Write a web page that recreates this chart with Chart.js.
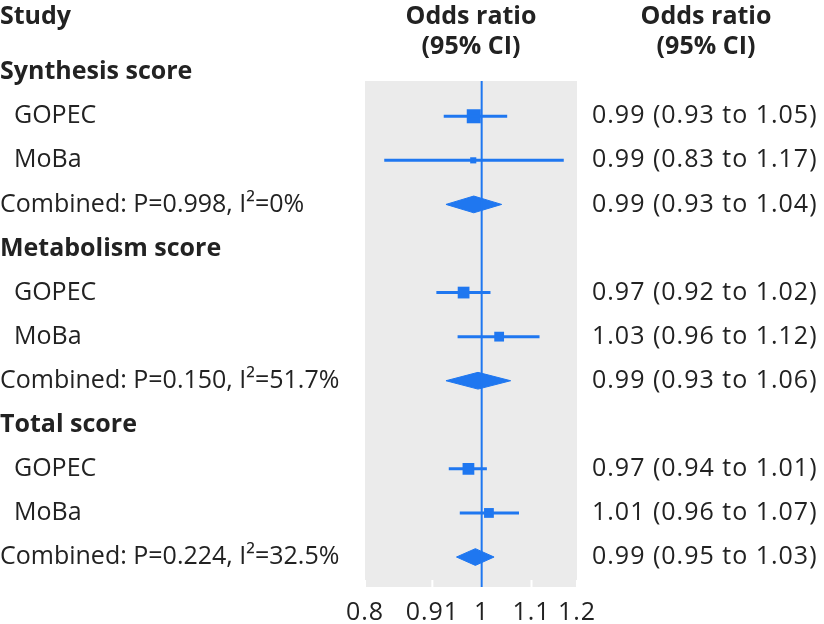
<!DOCTYPE html>
<html>
<head>
<meta charset="utf-8">
<script src="https://cdn.jsdelivr.net/npm/chart.js@4.4.1/dist/chart.umd.min.js"></script>
<style>
  html, body { margin: 0; padding: 0; background: #fff; }
  #wrap { width: 824px; height: 624px; }
</style>
</head>
<body>
<div id="wrap"><canvas id="grafica1"></canvas></div>
<script>
// filas del forest plot (de arriba hacia abajo)
const rowLabels = [
  "Synthesis score", "GOPEC", "MoBa", "Combined: P=0.998, I²=0%",
  "Metabolism score", "GOPEC", "MoBa", "Combined: P=0.150, I²=51.7%",
  "Total score", "GOPEC", "MoBa", "Combined: P=0.224, I²=32.5%"
];
const rowKinds = [
  "header", "study", "study", "combined",
  "header", "study", "study", "combined",
  "header", "study", "study", "combined"
];
const oddsRatio = [null, 0.985, 0.984, 0.985, null, 0.966, 1.034, 0.993, null, 0.975, 1.014, 0.988];
const ciLower   = [null, 0.93, 0.83, 0.934, null, 0.917, 0.955, 0.934, null, 0.939, 0.959, 0.953];
const ciUpper   = [null, 1.05, 1.17, 1.039, null, 1.017, 1.117, 1.057, null, 1.010, 1.074, 1.024];
const studyWeights = [null, 84, 16, null, null, 59, 41, null, null, 59, 41, null]; // % peso
const ciLabels = [
  "", "0.99 (0.93 to 1.05)", "0.99 (0.83 to 1.17)", "0.99 (0.93 to 1.04)",
  "", "0.97 (0.92 to 1.02)", "1.03 (0.96 to 1.12)", "0.99 (0.93 to 1.06)",
  "", "0.97 (0.94 to 1.01)", "1.01 (0.96 to 1.07)", "0.99 (0.95 to 1.03)"
];
const xTicks = [0.8, 0.91, 1, 1.1, 1.2];

const blue = "#1f77f0";
const font = "'Open Sans', 'DejaVu Sans', sans-serif";

const datasets = [];

// linea de no efecto
datasets.push({
  type: "scatter",
  data: [{ x: 1, y: 0.2 }, { x: 1, y: 11.68 }],
  showLine: true,
  borderColor: blue,
  borderWidth: 2,
  pointRadius: 0,
});

// intervalos de confianza y diamantes
rowKinds.forEach((k, i) => {
  if (k === "study") {
    datasets.push({
      type: "scatter",
      data: [{ x: ciLower[i], y: i }, { x: ciUpper[i], y: i }],
      showLine: true,
      borderColor: blue,
      borderWidth: 3,
      pointRadius: 0,
    });
  } else if (k === "combined") {
    const h = 0.19;
    datasets.push({
      type: "scatter",
      data: [
        { x: ciLower[i], y: i },
        { x: oddsRatio[i], y: i - h },
        { x: ciUpper[i], y: i },
        { x: oddsRatio[i], y: i + h },
        { x: ciLower[i], y: i },
      ],
      showLine: true,
      fill: "shape",
      backgroundColor: blue,
      borderColor: blue,
      borderWidth: 1,
      pointRadius: 0,
    });
  }
});

// cuadrados (tamano segun peso)
const squares = [];
const radii = [];
rowKinds.forEach((k, i) => {
  if (k === "study") {
    squares.push({ x: oddsRatio[i], y: i });
    radii.push((1.53 * Math.sqrt(studyWeights[i])) / Math.SQRT2);
  }
});
datasets.push({
  type: "scatter",
  data: squares,
  pointStyle: "rect",
  pointRadius: radii,
  pointHoverRadius: radii,
  backgroundColor: blue,
  borderWidth: 0,
});

const panelPlugin = {
  id: "panel",
  beforeDraw(chart) {
    chart.ctx.letterSpacing = "1px";
  },
  beforeDatasetsDraw(chart) {
    const { ctx, chartArea: a } = chart;
    ctx.save();
    ctx.fillStyle = "#ebebeb";
    ctx.fillRect(a.left, a.top, a.right - a.left, a.bottom - a.top);
    // marcas blancas del eje
    ctx.strokeStyle = "#ffffff";
    ctx.lineWidth = 2;
    xTicks.forEach((t) => {
      const px = chart.scales.x.getPixelForValue(t);
      ctx.beginPath();
      ctx.moveTo(px, a.bottom);
      ctx.lineTo(px, a.bottom - 7);
      ctx.stroke();
    });
    ctx.restore();
  },
  afterDraw(chart) {
    const { ctx } = chart;
    const y = chart.scales.y;
    ctx.save();
    ctx.letterSpacing = "0px";
    ctx.fillStyle = "#222";
    ctx.textBaseline = "middle";
    // encabezados
    ctx.font = "bold 25px " + font;
    ctx.textAlign = "left";
    ctx.fillText("Study", 0, y.getPixelForValue(-1.25));
    ctx.textAlign = "center";
    ctx.fillText("Odds ratio", 471, y.getPixelForValue(-1.25));
    ctx.fillText("(95% CI)", 471, y.getPixelForValue(-0.57));
    ctx.fillText("Odds ratio", 706, y.getPixelForValue(-1.25));
    ctx.fillText("(95% CI)", 706, y.getPixelForValue(-0.57));
    // filas
    rowLabels.forEach((lab, i) => {
      const py = y.getPixelForValue(i);
      ctx.textAlign = "left";
      if (rowKinds[i] === "header") {
        ctx.letterSpacing = "0px";
        ctx.font = "bold 25px " + font;
        ctx.fillText(lab, 0, py);
      } else {
        ctx.font = "25px " + font;
        ctx.letterSpacing = "0px";
        ctx.fillText(lab, rowKinds[i] === "study" ? 14 : 0, py);
        ctx.letterSpacing = "1px";
        ctx.fillText(ciLabels[i], 592, py);
      }
    });
    ctx.restore();
    ctx.letterSpacing = "0px";
  },
};

new Chart(document.getElementById("grafica1"), {
  type: "scatter",
  data: { datasets: datasets },
  options: {
    responsive: true,
    maintainAspectRatio: false,
    animation: false,
    layout: { padding: { left: 365, right: 247, top: 81, bottom: 0 } },
    plugins: { legend: { display: false }, tooltip: { enabled: false } },
    scales: {
      x: {
        type: "logarithmic",
        min: 0.8,
        max: 1.2,
        afterBuildTicks: (s) => { s.ticks = xTicks.map((v) => ({ value: v })); },
        afterFit: (s) => { s.height = 37; },
        grid: { display: false },
        border: { display: false },
        ticks: {
          padding: 3,
          autoSkip: false,
          maxRotation: 0,
          color: "#222",
          font: { family: font, size: 25 },
          callback: (v) => String(v),
        },
      },
      y: {
        type: "linear",
        min: 0.2,
        max: 11.68,
        reverse: true,
        display: false,
      },
    },
  },
  plugins: [panelPlugin],
});
</script>
</body>
</html>
